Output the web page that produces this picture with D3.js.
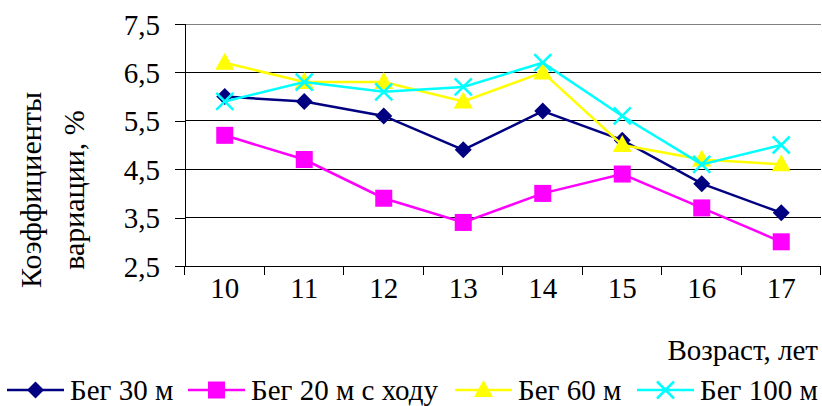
<!DOCTYPE html>
<html>
<head>
<meta charset="utf-8">
<script src="https://cdn.jsdelivr.net/npm/d3@7"></script>
</head>
<body style="margin:0">
<script>
// ages on the x axis
const ages = ["10", "11", "12", "13", "14", "15", "16", "17"];
const yTicks = [2.5, 3.5, 4.5, 5.5, 6.5, 7.5];

// coefficients of variation, %
const run30 = [6.0, 5.9, 5.6, 4.9, 5.7, 5.1, 4.2, 3.6];
const run20 = [5.2, 4.7, 3.9, 3.4, 4.0, 4.4, 3.7, 3.0];
const run60 = [6.7, 6.3, 6.3, 5.9, 6.5, 5.0, 4.7, 4.6];
const run100 = [5.9, 6.3, 6.1, 6.2, 6.7, 5.6, 4.6, 5.0];

const seriesNames = ["Бег 30 м", "Бег 20 м с ходу", "Бег 60 м", "Бег 100 м"];

const series = [
  { name: seriesNames[0], values: run30, color: "#000080", marker: "diamond" },
  { name: seriesNames[1], values: run20, color: "#FF00FF", marker: "square" },
  { name: seriesNames[2], values: run60, color: "#FFFF00", marker: "triangle" },
  { name: seriesNames[3], values: run100, color: "#00FFFF", marker: "cross" }
];

const width = 822, height = 406;
const plotLeft = 185, plotRight = 821, plotTop = 24, plotBottom = 266;
const serif = "Liberation Serif";
const fontSize = 29;

const svg = d3.select("body").append("svg")
  .attr("width", width)
  .attr("height", height);

const x = d3.scaleBand().domain(ages).range([plotLeft, plotRight]).padding(0);
const y = d3.scaleLinear().domain([2.5, 7.5]).range([plotBottom, plotTop]);
const cx = d => x(d) + x.bandwidth() / 2;

// gridlines
svg.append("g")
  .selectAll("line")
  .data(yTicks.slice(1))
  .enter().append("line")
  .attr("x1", plotLeft).attr("x2", plotRight)
  .attr("y1", d => y(d)).attr("y2", d => y(d))
  .attr("stroke", d => d === 7.5 ? "#808080" : "#000")
  .attr("stroke-width", 1)
  .attr("shape-rendering", "crispEdges");

// y axis
const yAxis = svg.append("g")
  .attr("transform", `translate(${plotLeft},0)`)
  .call(d3.axisLeft(y).tickValues(yTicks).tickSize(10).tickPadding(15)
    .tickFormat(d => d3.format(".1f")(d).replace(".", ",")));
yAxis.attr("font-family", serif).attr("font-size", fontSize);
yAxis.select(".domain").attr("stroke", "#000");
yAxis.selectAll("line").attr("stroke", "#000");
yAxis.selectAll("text")
  .attr("font-family", serif).attr("font-size", fontSize)
  .attr("fill", "#000").attr("dy", "0.35em");
yAxis.attr("shape-rendering", "crispEdges");

// x axis (labels at centers, ticks between categories)
const xAxis = svg.append("g")
  .attr("transform", `translate(0,${plotBottom})`)
  .call(d3.axisBottom(x).tickSize(0).tickPadding(11));
xAxis.attr("font-family", serif).attr("font-size", fontSize);
xAxis.select(".domain").remove();
xAxis.selectAll("text")
  .attr("font-family", serif).attr("font-size", fontSize)
  .attr("fill", "#000").attr("dy", "0.71em");
svg.append("line")
  .attr("x1", plotLeft).attr("x2", plotRight)
  .attr("y1", plotBottom).attr("y2", plotBottom)
  .attr("stroke", "#000").attr("shape-rendering", "crispEdges");
svg.append("g")
  .selectAll("line")
  .data(d3.range(ages.length + 1))
  .enter().append("line")
  .attr("x1", i => Math.round(plotLeft + i * x.step()) - 0.5)
  .attr("x2", i => Math.round(plotLeft + i * x.step()) - 0.5)
  .attr("y1", plotBottom).attr("y2", plotBottom + 9)
  .attr("stroke", "#000");

// axis titles
const yTitle = svg.append("text")
  .attr("transform", "translate(41,190) rotate(-90)")
  .attr("text-anchor", "middle")
  .attr("font-family", serif)
  .attr("font-size", 30);
yTitle.append("tspan").attr("x", 0).attr("dy", 0).text("Коэффициенты");
yTitle.append("tspan").attr("x", 0).attr("dy", 43).text("вариации, %");

svg.append("text")
  .attr("x", 818).attr("y", 360)
  .attr("text-anchor", "end")
  .attr("font-family", serif)
  .attr("font-size", fontSize)
  .text("Возраст, лет");

function drawMarker(g, type, color) {
  if (type === "diamond") {
    g.append("path").attr("d", "M0,-8.5L8.5,0L0,8.5L-8.5,0Z").attr("fill", color);
  } else if (type === "square") {
    g.append("rect").attr("x", -8.5).attr("y", -8.5).attr("width", 17).attr("height", 17).attr("fill", color);
  } else if (type === "triangle") {
    g.append("path").attr("d", "M0,-10L9.5,7L-9.5,7Z").attr("fill", color);
  } else {
    g.append("path").attr("d", "M-8.5,-8.5L8.5,8.5M-8.5,8.5L8.5,-8.5")
      .attr("stroke", color).attr("stroke-width", 2.5).attr("fill", "none");
  }
}

const line = d3.line()
  .x((d, i) => cx(ages[i]))
  .y(d => y(d));

series.forEach(s => {
  svg.append("path")
    .datum(s.values)
    .attr("d", line)
    .attr("fill", "none")
    .attr("stroke", s.color)
    .attr("stroke-width", 2.5);
  s.values.forEach((v, i) => {
    const g = svg.append("g").attr("transform", `translate(${cx(ages[i])},${y(v)})`);
    drawMarker(g, s.marker, s.color);
  });
});

// legend
const legendX = [7, 188, 455, 637];
const legendY = 390;
series.forEach((s, i) => {
  const g = svg.append("g").attr("transform", `translate(${legendX[i]},${legendY})`);
  g.append("line").attr("x1", 0).attr("x2", 57).attr("y1", 0).attr("y2", 0)
    .attr("stroke", s.color).attr("stroke-width", 2.5);
  const m = g.append("g").attr("transform", "translate(28.5,0)");
  drawMarker(m, s.marker, s.color);
  g.append("text").attr("x", 63).attr("y", 0).attr("dy", "0.35em")
    .attr("font-family", serif).attr("font-size", fontSize).text(s.name);
});
</script>
</body>
</html>
